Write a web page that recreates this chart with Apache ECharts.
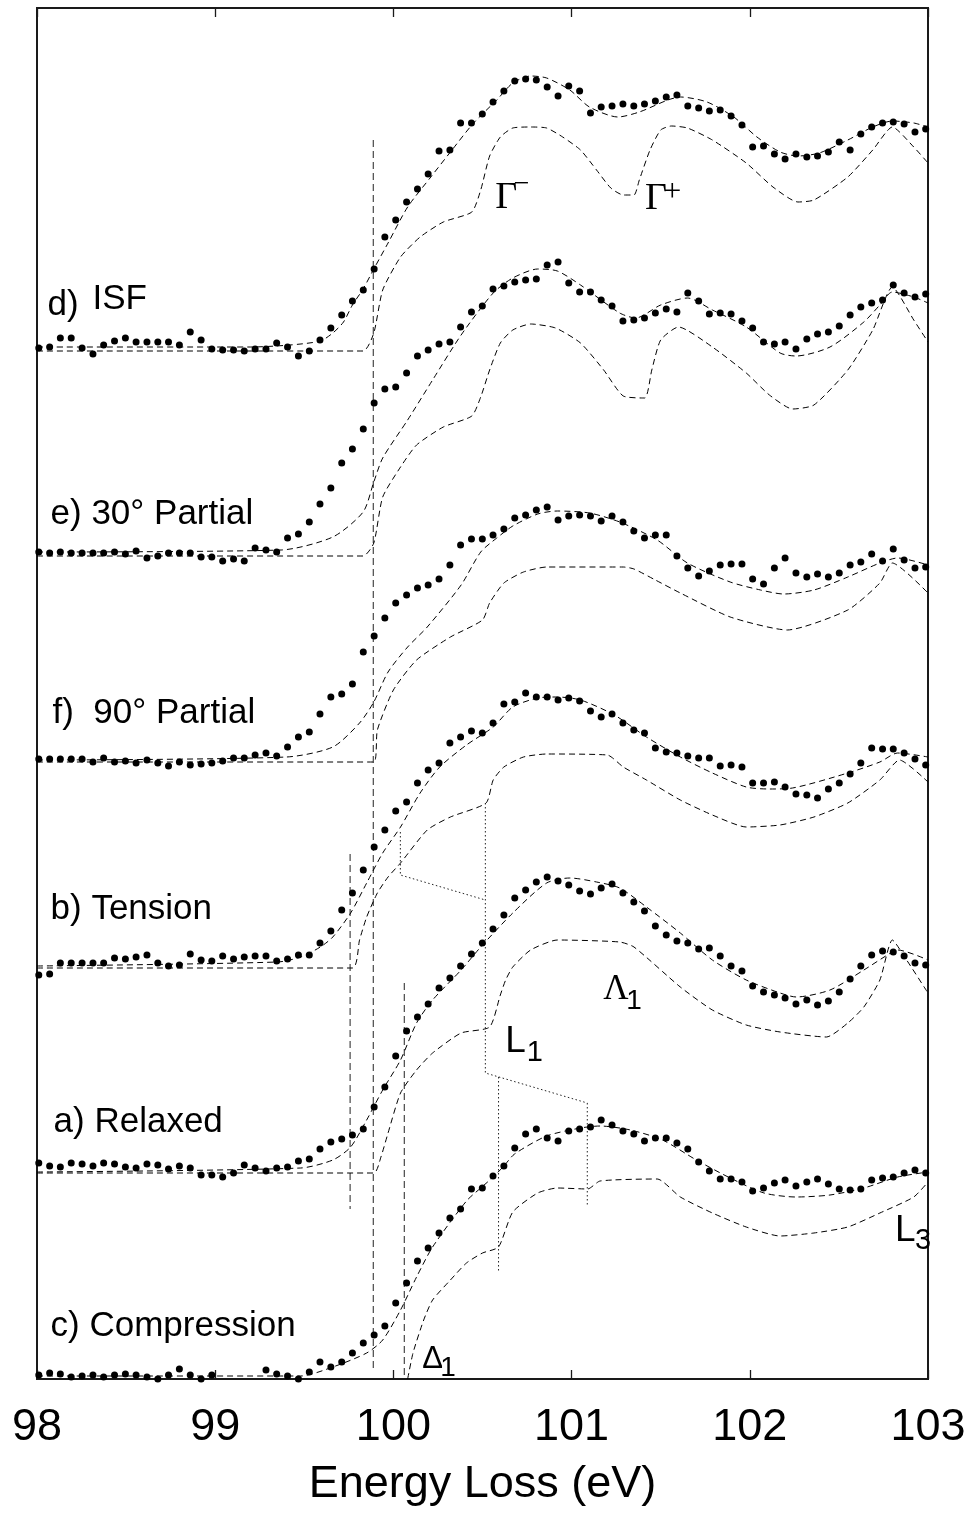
<!DOCTYPE html>
<html><head><meta charset="utf-8">
<script src="https://cdn.jsdelivr.net/npm/echarts@6/dist/echarts.min.js"></script>
<style>html,body{margin:0;padding:0;background:#fff}#c{width:973px;height:1521px}</style>
</head><body><div id="c"></div><script>
// Energy channels (eV)
const energy = [98.010,98.071,98.131,98.192,98.253,98.314,98.374,98.435,98.496,98.556,
98.617,98.678,98.738,98.799,98.860,98.921,98.981,99.042,99.103,99.163,
99.224,99.285,99.345,99.406,99.467,99.528,99.588,99.649,99.710,99.770,
99.831,99.892,99.952,100.013,100.074,100.135,100.195,100.256,100.317,100.377,
100.438,100.499,100.559,100.620,100.681,100.742,100.802,100.863,100.924,100.984,
101.045,101.106,101.166,101.227,101.288,101.349,101.409,101.470,101.531,101.591,
101.652,101.713,101.773,101.834,101.895,101.956,102.016,102.077,102.138,102.198,
102.259,102.320,102.380,102.441,102.502,102.563,102.623,102.684,102.745,102.805,
102.866,102.927,102.987];

// Measured spectra (offset intensity, arb. units)
const isfDots = [1031,1032,1041,1041,1031,1025,1034,1038,1041,1037,
1037,1037,1037,1034,1047,1039,1030,1029,1029,1028,
1030,1030,1036,1032,1023,1028,1039,1051,1064,1078,
1089,1110,1142,1159,1177,1190,1205,1228,1229,1256,
1256,1265,1277,1288,1298,1300,1299,1292,1283,1293,
1288,1266,1272,1273,1275,1273,1275,1278,1282,1284,
1273,1271,1268,1269,1263,1254,1232,1233,1225,1220,
1225,1222,1223,1227,1237,1229,1245,1252,1256,1257,
1255,1247,1250];
const partial30Dots = [827,826,827,826,826,826,826,827,825,828,
821,823,826,826,826,822,822,818,820,818,
831,829,827,841,845,857,875,891,916,930,
950,976,990,992,1006,1023,1029,1035,1037,1052,
1067,1073,1090,1093,1097,1099,1100,1114,1117,1096,
1087,1087,1079,1073,1058,1059,1061,1066,1070,1067,
1086,1078,1065,1066,1065,1058,1051,1037,1035,1037,
1030,1040,1045,1047,1053,1064,1072,1076,1079,1094,
1086,1082,1085];
const partial90Dots = [620,620,620,620,620,617,621,617,618,616,
619,616,613,617,614,615,616,618,621,621,
624,626,623,632,642,647,665,682,685,695,
727,743,761,776,784,791,794,800,814,834,
840,840,844,850,861,864,869,872,859,863,
864,863,858,863,857,848,841,844,844,823,
811,803,808,814,815,815,800,795,811,821,
806,802,805,802,806,814,817,825,818,830,
819,811,812];
const tensionDots = [404,405,416,416,416,416,416,421,420,422,
424,416,413,414,425,419,418,423,420,422,
423,423,418,420,424,424,436,448,469,486,
509,532,549,568,577,596,609,616,636,642,
648,646,656,675,677,686,682,682,679,681,
678,668,662,665,656,649,646,631,627,626,
623,621,621,613,614,612,596,596,597,592,
585,584,581,590,596,605,616,631,630,630,
626,620,614];
const relaxedDots = [216,213,212,216,215,213,216,215,212,211,
215,214,210,213,211,204,204,202,206,214,
211,208,211,212,218,220,230,237,240,244,
250,272,292,323,348,362,375,391,401,413,
425,436,450,464,481,489,497,502,498,494,
488,485,491,495,486,477,468,453,444,438,
436,430,431,423,413,408,393,387,384,381,
375,379,374,378,387,400,413,424,428,427,
423,416,414];
const compressionDots = [4,6,5,2,3,4,2,4,5,4,
2,0,4,10,4,0,4,null,null,null,
null,9,5,3,0,7,17,12,17,26,
36,44,53,76,96,118,131,146,161,170,
190,191,203,213,231,245,250,241,238,248,
250,252,259,254,248,245,238,241,241,236,
230,217,208,200,200,197,188,191,196,199,
193,197,200,195,190,189,190,199,201,202,
206,209,206];

// Fitted (upper dashed) and calculated (lower dashed) curves: [eV, intensity]
const isfFit = [[98.00,1032],[99.20,1032],[99.42,1034],[99.59,1038],[99.66,1046],[99.72,1057],[99.77,1074],[99.83,1090],[99.89,1110],[99.97,1136],[100.08,1172],[100.21,1202],[100.32,1227],[100.45,1256],[100.58,1279],[100.67,1296],[100.77,1303],[100.86,1301],[100.99,1289],[101.10,1272],[101.26,1262],[101.38,1267],[101.54,1279],[101.61,1282],[101.76,1277],[101.91,1262],[102.04,1242],[102.17,1227],[102.27,1223],[102.39,1226],[102.55,1239],[102.69,1252],[102.80,1258],[102.92,1256],[103.00,1252]];
const isfTheory = [[98.00,1028],[99.83,1028],[99.89,1046],[99.94,1089],[100.04,1122],[100.15,1142],[100.28,1157],[100.44,1167],[100.49,1189],[100.54,1223],[100.60,1242],[100.67,1251],[100.77,1252],[100.86,1251],[100.95,1242],[101.05,1229],[101.14,1209],[101.22,1191],[101.29,1184],[101.35,1184],[101.38,1199],[101.44,1229],[101.50,1249],[101.56,1253],[101.65,1251],[101.79,1239],[101.98,1216],[102.13,1192],[102.27,1177],[102.36,1179],[102.55,1202],[102.69,1229],[102.80,1252],[102.92,1232],[103.00,1216]];
const partial30Fit = [[98.00,827],[99.37,829],[99.66,842],[99.83,867],[99.89,897],[99.94,921],[100.08,959],[100.22,999],[100.38,1044],[100.56,1086],[100.67,1101],[100.81,1110],[100.92,1108],[101.05,1094],[101.27,1066],[101.36,1061],[101.50,1074],[101.65,1081],[101.79,1069],[101.98,1052],[102.17,1026],[102.26,1023],[102.45,1032],[102.64,1057],[102.73,1074],[102.80,1087],[102.92,1082],[103.00,1076]];
const partial30Theory = [[98.00,823],[99.83,823],[99.89,836],[99.94,882],[100.04,912],[100.13,934],[100.28,952],[100.44,963],[100.49,982],[100.54,1009],[100.60,1036],[100.67,1049],[100.77,1055],[100.91,1051],[101.05,1036],[101.18,1009],[101.29,983],[101.41,981],[101.45,1009],[101.50,1039],[101.60,1052],[101.79,1032],[101.98,1006],[102.11,984],[102.24,970],[102.36,974],[102.55,1009],[102.69,1049],[102.80,1092],[102.92,1059],[103.00,1037]];
const partial90Fit = [[98.00,619],[99.40,622],[99.66,632],[99.81,656],[99.89,677],[99.97,707],[100.08,732],[100.19,752],[100.38,794],[100.49,827],[100.58,841],[100.67,853],[100.81,865],[100.92,868],[101.10,866],[101.27,857],[101.48,839],[101.65,816],[101.89,797],[102.06,789],[102.19,785],[102.36,789],[102.55,802],[102.73,816],[102.83,821],[103.00,814]];
const partial90Theory = [[98.00,617],[99.89,617],[99.91,649],[100.00,689],[100.13,719],[100.32,742],[100.50,759],[100.54,776],[100.62,796],[100.73,807],[100.86,812],[101.29,812],[101.35,810],[101.47,799],[101.61,786],[101.89,762],[102.21,749],[102.55,769],[102.73,796],[102.80,816],[103.00,786]];
const tensionFit = [[98.00,413],[99.35,417],[99.48,422],[99.59,432],[99.66,442],[99.76,466],[99.85,496],[99.94,526],[100.04,552],[100.15,586],[100.26,612],[100.41,634],[100.56,652],[100.67,672],[100.81,681],[100.92,682],[101.05,679],[101.24,664],[101.42,642],[101.61,622],[101.79,606],[101.98,592],[102.11,590],[102.24,591],[102.55,606],[102.73,617],[102.83,626],[103.00,622]];
const tensionTheory = [[98.00,411],[99.77,411],[99.81,439],[99.85,462],[99.91,486],[99.97,502],[100.04,516],[100.19,549],[100.32,562],[100.52,576],[100.56,599],[100.62,612],[100.73,622],[100.86,625],[101.20,624],[101.29,612],[101.42,599],[101.61,579],[101.79,564],[101.98,552],[102.17,554],[102.36,562],[102.55,576],[102.73,599],[102.84,619],[103.00,597]];
const relaxedFit = [[98.00,207],[99.48,211],[99.66,219],[99.76,232],[99.85,259],[99.94,289],[100.04,319],[100.13,356],[100.22,379],[100.38,409],[100.49,432],[100.67,466],[100.86,496],[100.99,501],[101.14,497],[101.27,491],[101.42,472],[101.61,446],[101.79,419],[101.98,399],[102.17,386],[102.26,382],[102.45,389],[102.64,409],[102.79,426],[102.83,429],[103.00,419]];
const relaxedTheory = [[98.00,206],[99.89,206],[99.93,222],[99.97,246],[100.04,286],[100.13,309],[100.22,326],[100.38,346],[100.54,352],[100.60,384],[100.63,399],[100.67,412],[100.77,429],[100.92,439],[101.27,437],[101.35,432],[101.61,392],[101.79,369],[101.98,354],[102.17,347],[102.43,342],[102.55,356],[102.64,372],[102.73,399],[102.80,439],[102.88,419],[103.00,386]];
const compressionFit = [[98.00,3],[99.48,3],[99.66,12],[99.85,26],[99.94,39],[100.04,69],[100.13,102],[100.22,132],[100.41,178],[100.49,191],[100.56,202],[100.62,213],[100.68,225],[100.86,243],[101.05,251],[101.16,253],[101.33,249],[101.51,239],[101.70,219],[101.89,201],[102.08,186],[102.26,182],[102.45,184],[102.64,191],[102.83,202],[103.00,207]];
const compressionTheory = [[100.08,0],[100.11,26],[100.17,59],[100.22,79],[100.32,99],[100.41,116],[100.50,126],[100.59,132],[100.67,167],[100.81,186],[100.92,191],[101.09,190],[101.16,198],[101.48,200],[101.61,182],[101.79,166],[101.98,152],[102.17,143],[102.36,146],[102.55,152],[102.73,166],[102.92,182],[103.00,197]];

// Edge-onset markers (dashed) and band-feature connectors (dotted)
const edgeLines = [
  [[99.887,1239],[99.887,7]],
  [[99.757,525],[99.757,170]],
  [[100.061,396],[100.061,2]]
];
const connectorLines = [
  [[100.039,547],[100.039,504],[100.516,479]],
  [[100.516,576],[100.516,306],[101.088,276]],
  [[100.590,302],[100.590,106]],
  [[101.088,276],[101.088,172]]
];

const xTicks = [98, 99, 100, 101, 102, 103];

const SANS = 'Liberation Sans, Arial, sans-serif';
const SERIF = 'Liberation Serif, Times New Roman, serif';

const annotations = [
  {text:'d)', x:98.059, y:1074, font:SANS, size:35},
  {text:'ISF', x:98.311, y:1080, font:SANS, size:35},
  {text:'e) 30° Partial', x:98.076, y:865, font:SANS, size:35},
  {text:'f)  90° Partial', x:98.087, y:666, font:SANS, size:35},
  {text:'b) Tension', x:98.076, y:470, font:SANS, size:35},
  {text:'a) Relaxed', x:98.093, y:257, font:SANS, size:35},
  {text:'c) Compression', x:98.076, y:53, font:SANS, size:35},
  {text:'Γ', x:100.571, y:1181, font:SERIF, size:38},
  {text:'−', x:100.676, y:1194, font:SERIF, size:28},
  {text:'Γ', x:101.412, y:1180, font:SERIF, size:38},
  {text:'+', x:101.515, y:1186, font:SERIF, size:32},
  {text:'Λ', x:101.177, y:389, font:SERIF, size:35},
  {text:'1', x:101.307, y:378, font:SANS, size:28},
  {text:'L', x:100.628, y:337, font:SANS, size:37},
  {text:'1', x:100.749, y:326, font:SANS, size:29},
  {text:'L', x:102.815, y:148, font:SANS, size:37},
  {text:'3', x:102.927, y:138, font:SANS, size:29},
  {text:'Δ', x:100.162, y:20, font:SANS, size:31},
  {text:'1', x:100.263, y:11, font:SANS, size:28}
];

const spectra = [
  {name:'d) ISF', dots:isfDots, fit:isfFit, theory:isfTheory},
  {name:'e) 30° Partial', dots:partial30Dots, fit:partial30Fit, theory:partial30Theory},
  {name:'f) 90° Partial', dots:partial90Dots, fit:partial90Fit, theory:partial90Theory},
  {name:'b) Tension', dots:tensionDots, fit:tensionFit, theory:tensionTheory},
  {name:'a) Relaxed', dots:relaxedDots, fit:relaxedFit, theory:relaxedTheory},
  {name:'c) Compression', dots:compressionDots, fit:compressionFit, theory:compressionTheory}
];

const series = [];
spectra.forEach(s => {
  series.push({
    name: s.name + ' calc', type:'line', data:s.theory, symbol:'none', smooth:0.2,
    lineStyle:{color:'#000', width:1, type:[6,4]}, silent:true, clip:true, z:2
  });
  series.push({
    name: s.name + ' fit', type:'line', data:s.fit, symbol:'none', smooth:0.25,
    lineStyle:{color:'#000', width:1, type:[6,4]}, silent:true, clip:true, z:2
  });
  series.push({
    name: s.name, type:'scatter', symbol:'circle', symbolSize:7, clip:true,
    itemStyle:{color:'#000', opacity:1}, silent:true, z:3,
    data: energy.map((e,i) => [e, s.dots[i]]).filter(p => p[1] !== null)
  });
});
edgeLines.forEach(d => series.push({
  type:'line', data:d, symbol:'none', silent:true,
  lineStyle:{color:'#222', width:1, type:[7,4]}, z:1
}));
connectorLines.forEach(d => series.push({
  type:'line', data:d, symbol:'none', silent:true,
  lineStyle:{color:'#222', width:1, type:[1.5,2.5]}, z:1
}));

const chart = echarts.init(document.getElementById('c'), null, {renderer:'canvas'});
const option = {
  animation:false,
  backgroundColor:'#fff',
  grid:{left:37, right:45, top:8, bottom:142, show:true, borderColor:'#1a1a1a', borderWidth:2, backgroundColor:'transparent'},
  xAxis:[{
    type:'value', min:98, max:103, interval:1, position:'bottom',
    axisLine:{show:false}, splitLine:{show:false},
    axisTick:{show:true, inside:true, length:9, lineStyle:{color:'#1a1a1a', width:1.3}},
    axisLabel:{show:true, margin:26, fontSize:45, lineHeight:45, fontFamily:SANS, color:'#000',
      formatter: v => xTicks.includes(v) ? String(v) : ''},
    name:'Energy Loss (eV)', nameLocation:'middle', nameGap:83,
    nameTextStyle:{fontSize:45, lineHeight:45, fontFamily:SANS, color:'#000'}
  },{
    type:'value', min:98, max:103, interval:1, position:'top',
    axisLine:{show:false}, splitLine:{show:false}, axisLabel:{show:false},
    axisTick:{show:true, inside:true, length:9, lineStyle:{color:'#1a1a1a', width:1.3}}
  }],
  yAxis:{type:'value', min:0, max:1371, show:false, splitLine:{show:false}},
  series: series
};
chart.setOption(option);

const graphics = annotations.map(a => {
  const p = chart.convertToPixel({xAxisIndex:0, yAxisIndex:0}, [a.x, a.y]);
  return {type:'text', x:p[0], y:p[1], silent:true, z:10,
    style:{text:a.text, fontSize:a.size, fontFamily:a.font, fill:'#000',
      align:'left', verticalAlign:'middle', textAlign:'left', textVerticalAlign:'middle'}};
});
chart.setOption({graphic: graphics});
</script></body></html>
